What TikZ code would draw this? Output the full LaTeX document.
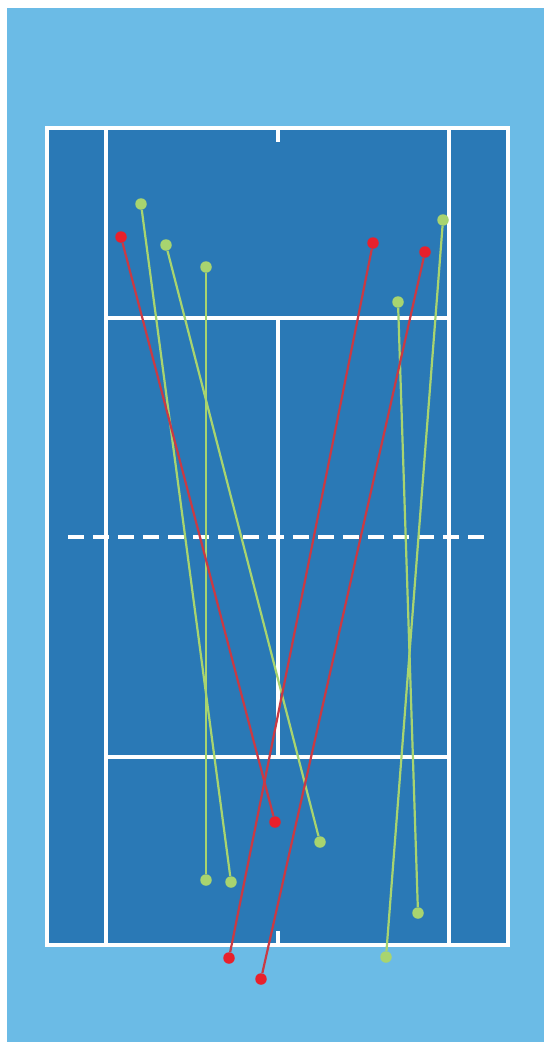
\documentclass[tikz,border=0pt]{standalone}
\usepackage{tikz}
\usetikzlibrary{positioning, calc}

\definecolor{sky}{HTML}{6BBBE6}
\definecolor{court}{HTML}{2A79B6}
\definecolor{hitred}{HTML}{E8202C}
\definecolor{hitgreen}{HTML}{A8D46F}
\definecolor{linered}{HTML}{C93A44}

\begin{document}
\begin{tikzpicture}[
    x=0.02cm, y=-0.02cm,
    courtline/.style={draw=white, line width=4.2*0.02cm, line cap=rect},
    reddot/.style={circle, fill=hitred, inner sep=0pt, minimum size=11.5*0.02cm},
    greendot/.style={circle, fill=hitgreen, inner sep=0pt, minimum size=11.5*0.02cm},
    redshot/.style={draw=linered, line width=2.2*0.02cm},
    greenshot/.style={draw=hitgreen, line width=2.2*0.02cm}
]
\useasboundingbox (0,0) rectangle (544,1042);
\fill[sky] (7,8) rectangle (544,1042);

% court
\fill[court] (47,128) rectangle (508,945);
\draw[courtline] (47,128) rectangle (508,945);
\draw[courtline] (106,128) -- (106,945);
\draw[courtline] (449,128) -- (449,945);
\draw[courtline] (106,318) -- (449,318);
\draw[courtline] (106,757) -- (449,757);
\draw[courtline] (278,318) -- (278,757);
\draw[courtline] (278,128) -- (278,140);
\draw[courtline] (278,933) -- (278,945);
\draw[courtline, line cap=butt, dash pattern=on 16*0.02cm off 9*0.02cm] (68,537) -- (484,537);

% shots
\node[reddot] (r1a) at (121,237) {};
\node[reddot] (r1b) at (275,822) {};
\node[reddot] (r2a) at (373,243) {};
\node[reddot] (r2b) at (229,958) {};
\node[reddot] (r3a) at (425,252) {};
\node[reddot] (r3b) at (261,979) {};

\node[greendot] (g1a) at (141,204) {};
\node[greendot] (g1b) at (231,882) {};
\node[greendot] (g2a) at (166,245) {};
\node[greendot] (g2b) at (320,842) {};
\node[greendot] (g3a) at (206,267) {};
\node[greendot] (g3b) at (206,880) {};
\node[greendot] (g4a) at (443,220) {};
\node[greendot] (g4b) at (386,957) {};
\node[greendot] (g5a) at (398,302) {};
\node[greendot] (g5b) at (418,913) {};

\path[greenshot] (g1a) -- (g1b);
\path[greenshot] (g2a) -- (g2b);
\path[greenshot] (g3a) -- (g3b);
\path[greenshot] (g4a) -- (g4b);
\path[greenshot] (g5a) -- (g5b);

\path[redshot] (r1a) -- (r1b);
\path[redshot] (r2a) -- (r2b);
\path[redshot] (r3a) -- (r3b);
\end{tikzpicture}
\end{document}
